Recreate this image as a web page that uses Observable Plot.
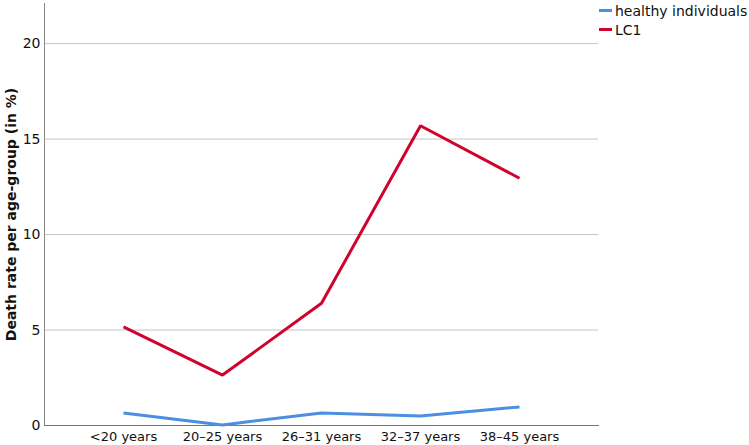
<!DOCTYPE html>
<html><head><meta charset="utf-8">
<script src="https://cdn.jsdelivr.net/npm/d3@7"></script>
<script src="https://cdn.jsdelivr.net/npm/@observablehq/plot@0.6"></script>
<style>
body{margin:0;background:#fff;font-family:"DejaVu Sans",sans-serif;}
#wrap{position:relative;width:749px;height:445px;}
#legend{position:absolute;left:599px;top:2px;font-size:14px;color:#111;line-height:19px;}
#legend .sw{display:inline-block;width:13px;height:3px;margin-right:3px;vertical-align:middle;position:relative;top:-2px;}
g[aria-label="y-axis label"] text{font-weight:bold;font-size:14px;}
</style></head><body>
<div id="wrap"><div id="chart"></div>
<div id="legend"><div><span class="sw" style="background:#4a8fe2"></span>healthy individuals</div><div><span class="sw" style="background:#d1022e"></span>LC1</div></div></div>
<script>
const categories = ["<20 years","20–25 years","26–31 years","32–37 years","38–45 years"];
const seriesNames = ["healthy individuals","LC1"];
const healthy = [0.66, 0.03, 0.66, 0.5, 0.97];
const lc1 = [5.16, 2.64, 6.4, 15.7, 12.95];
const yTicks = [0,5,10,15,20];
const colors = ["#4a8fe2","#d1022e"];

const data = [];
categories.forEach((c,i)=>{ data.push({cat:c, s:seriesNames[0], v:healthy[i]}); });
categories.forEach((c,i)=>{ data.push({cat:c, s:seriesNames[1], v:lc1[i]}); });

const chart = Plot.plot({
  width:749, height:445,
  marginLeft:44, marginRight:151, marginTop:3, marginBottom:20,
  style:{fontFamily:"DejaVu Sans, sans-serif", fontSize:"12.5px", color:"#111"},
  x:{type:"point", domain:categories, padding:0.79},
  y:{domain:[0,22.1]},
  color:{domain:seriesNames, range:colors},
  marks:[
    Plot.gridY(yTicks,{stroke:"#c4c4c4", strokeOpacity:1, strokeWidth:1}),
    Plot.frame({anchor:"left", stroke:"#888"}),
    Plot.frame({anchor:"bottom", stroke:"#777"}),
    Plot.axisY({ticks:yTicks, tickSize:0, tickPadding:4, label:"Death rate per age-group (in %)", labelAnchor:"center", labelArrow:"none", labelOffset:38, fontSize:14}),
    Plot.axisX({tickSize:0, tickPadding:6, label:null, fontSize:13}),
    Plot.line(data,{x:"cat", y:"v", z:"s", stroke:"s", strokeWidth:3, strokeLinejoin:"miter", strokeLinecap:"butt"})
  ]
});
document.getElementById("chart").appendChild(chart);
</script></body></html>
